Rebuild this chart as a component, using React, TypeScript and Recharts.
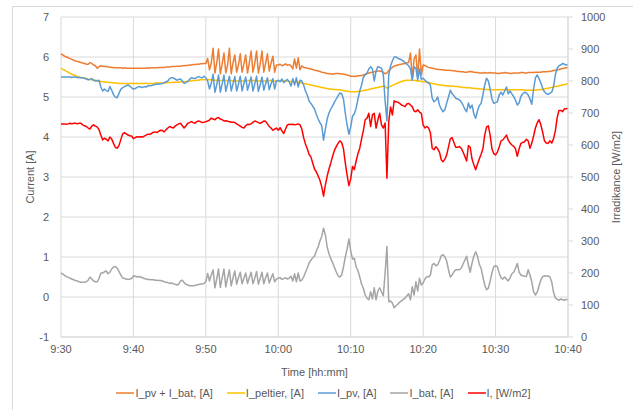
import React from 'react';
import { ComposedChart, Line, XAxis, YAxis, CartesianGrid, Legend } from 'recharts';

// minutes after 9:30, one sample every 15 s
const STEP_MIN = 0.25;
const TIME_TICKS = [0, 10, 20, 30, 40, 50, 60, 70];
const TIME_LABELS = ['9:30', '9:40', '9:50', '10:00', '10:10', '10:20', '10:30', '10:40'];
const CURRENT_TICKS = [-1, 0, 1, 2, 3, 4, 5, 6, 7];
const IRR_TICKS = [0, 100, 200, 300, 400, 500, 600, 700, 800, 900, 1000];
const SERIES_NAMES = ['I_pv + I_bat, [A]', 'I_peltier, [A]', 'I_pv, [A]', 'I_bat, [A]', 'I, [W/m2]'];

const I_PV_BAT = [
  6.08, 6.05, 6.02, 6.00, 5.98, 5.96, 5.94, 5.92, 5.90, 5.89, 5.88, 5.86, 5.85, 5.84, 5.82, 5.82, 5.86, 5.84, 5.80, 5.78,
  5.72, 5.76, 5.78, 5.77, 5.76, 5.76, 5.75, 5.75, 5.74, 5.74, 5.73, 5.73, 5.73, 5.73, 5.72, 5.73, 5.72, 5.72, 5.72, 5.72,
  5.72, 5.72, 5.72, 5.72, 5.72, 5.72, 5.72, 5.72, 5.73, 5.72, 5.73, 5.73, 5.73, 5.73, 5.74, 5.74, 5.74, 5.74, 5.75, 5.75,
  5.75, 5.76, 5.76, 5.76, 5.77, 5.77, 5.77, 5.78, 5.78, 5.79, 5.79, 5.80, 5.80, 5.81, 5.81, 5.82, 5.82, 5.83, 5.83, 5.84,
  5.84, 5.96, 5.68, 5.85, 6.22, 5.60, 5.85, 6.20, 5.58, 5.82, 6.10, 5.60, 5.80, 6.22, 5.58, 5.85, 6.05, 5.62, 5.80, 6.08,
  5.62, 5.82, 6.05, 5.60, 5.85, 6.15, 5.62, 5.84, 6.15, 5.60, 5.82, 6.15, 5.62, 5.85, 6.08, 5.65, 5.85, 6.02, 5.62, 5.80,
  5.80, 5.82, 5.78, 5.80, 5.83, 5.79, 5.81, 5.78, 5.70, 5.95, 5.72, 5.98, 5.68, 5.78, 5.74, 5.73, 5.72, 5.71, 5.70, 5.69,
  5.67, 5.66, 5.65, 5.64, 5.62, 5.61, 5.60, 5.59, 5.58, 5.58, 5.57, 5.58, 5.59, 5.59, 5.58, 5.58, 5.57, 5.56, 5.55, 5.54,
  5.52, 5.52, 5.51, 5.52, 5.53, 5.53, 5.54, 5.55, 5.57, 5.58, 5.60, 5.61, 5.62, 5.63, 5.64, 5.65, 5.65, 5.64, 5.62, 5.58,
  5.60, 5.66, 5.70, 5.74, 5.77, 5.79, 5.80, 5.81, 5.82, 5.83, 5.84, 5.85, 5.86, 6.10, 5.45, 5.95, 6.05, 5.50, 6.20, 5.55,
  5.80, 5.79, 5.76, 5.74, 5.73, 5.72, 5.71, 5.70, 5.69, 5.69, 5.68, 5.68, 5.67, 5.67, 5.67, 5.66, 5.66, 5.65, 5.65, 5.64,
  5.64, 5.63, 5.63, 5.62, 5.62, 5.63, 5.64, 5.63, 5.62, 5.61, 5.61, 5.60, 5.60, 5.60, 5.61, 5.60, 5.60, 5.61, 5.60, 5.60,
  5.60, 5.59, 5.59, 5.60, 5.60, 5.61, 5.60, 5.60, 5.59, 5.59, 5.60, 5.60, 5.60, 5.60, 5.61, 5.61, 5.60, 5.60, 5.61, 5.61,
  5.61, 5.61, 5.62, 5.62, 5.62, 5.62, 5.63, 5.63, 5.63, 5.64, 5.64, 5.65, 5.66, 5.67, 5.68, 5.69, 5.70, 5.71, 5.72, 5.73,
  5.74,
];

const I_PELTIER = [
  5.72, 5.69, 5.67, 5.64, 5.62, 5.59, 5.57, 5.55, 5.53, 5.51, 5.50, 5.49, 5.48, 5.47, 5.46, 5.45, 5.44, 5.43, 5.42, 5.42,
  5.41, 5.40, 5.39, 5.38, 5.38, 5.37, 5.37, 5.36, 5.36, 5.35, 5.35, 5.35, 5.34, 5.34, 5.34, 5.34, 5.34, 5.34, 5.34, 5.34,
  5.34, 5.34, 5.34, 5.34, 5.34, 5.34, 5.34, 5.34, 5.34, 5.34, 5.34, 5.34, 5.35, 5.35, 5.35, 5.35, 5.35, 5.35, 5.35, 5.36,
  5.36, 5.36, 5.36, 5.37, 5.37, 5.37, 5.38, 5.38, 5.38, 5.39, 5.39, 5.40, 5.40, 5.41, 5.41, 5.42, 5.42, 5.43, 5.43, 5.43,
  5.44, 5.44, 5.43, 5.43, 5.42, 5.42, 5.42, 5.41, 5.41, 5.41, 5.41, 5.41, 5.41, 5.41, 5.41, 5.40, 5.40, 5.40, 5.40, 5.40,
  5.40, 5.40, 5.40, 5.41, 5.41, 5.41, 5.41, 5.41, 5.40, 5.40, 5.40, 5.40, 5.40, 5.40, 5.41, 5.41, 5.41, 5.40, 5.40, 5.40,
  5.40, 5.40, 5.40, 5.40, 5.40, 5.40, 5.39, 5.39, 5.39, 5.38, 5.38, 5.37, 5.36, 5.35, 5.34, 5.33, 5.32, 5.31, 5.30, 5.29,
  5.28, 5.27, 5.26, 5.25, 5.24, 5.23, 5.22, 5.21, 5.20, 5.20, 5.19, 5.19, 5.19, 5.18, 5.18, 5.17, 5.16, 5.15, 5.15, 5.14,
  5.13, 5.13, 5.13, 5.13, 5.14, 5.14, 5.15, 5.16, 5.17, 5.18, 5.19, 5.20, 5.21, 5.22, 5.23, 5.24, 5.25, 5.26, 5.27, 5.27,
  5.22, 5.24, 5.27, 5.29, 5.31, 5.33, 5.35, 5.37, 5.38, 5.40, 5.41, 5.42, 5.42, 5.42, 5.42, 5.41, 5.41, 5.40, 5.40, 5.39,
  5.38, 5.38, 5.37, 5.36, 5.35, 5.34, 5.33, 5.32, 5.31, 5.30, 5.30, 5.29, 5.29, 5.28, 5.28, 5.27, 5.27, 5.27, 5.26, 5.26,
  5.25, 5.25, 5.24, 5.24, 5.23, 5.23, 5.23, 5.22, 5.22, 5.21, 5.21, 5.20, 5.20, 5.20, 5.19, 5.19, 5.19, 5.18, 5.18, 5.18,
  5.18, 5.18, 5.18, 5.18, 5.18, 5.18, 5.18, 5.18, 5.18, 5.18, 5.18, 5.18, 5.18, 5.18, 5.18, 5.18, 5.17, 5.17, 5.17, 5.17,
  5.17, 5.17, 5.17, 5.18, 5.18, 5.19, 5.19, 5.20, 5.21, 5.22, 5.23, 5.24, 5.25, 5.26, 5.27, 5.28, 5.29, 5.30, 5.31, 5.32,
  5.34,
];

const I_PV = [
  5.50, 5.50, 5.50, 5.50, 5.50, 5.50, 5.49, 5.50, 5.50, 5.49, 5.49, 5.48, 5.48, 5.47, 5.45, 5.43, 5.44, 5.46, 5.42, 5.40,
  5.40, 5.42, 5.25, 5.15, 5.20, 5.16, 5.14, 5.26, 5.17, 5.06, 5.00, 4.98, 5.09, 5.19, 5.23, 5.26, 5.28, 5.30, 5.27, 5.23,
  5.20, 5.21, 5.24, 5.26, 5.25, 5.24, 5.26, 5.25, 5.28, 5.28, 5.29, 5.30, 5.31, 5.33, 5.32, 5.33, 5.34, 5.36, 5.38, 5.40,
  5.46, 5.48, 5.48, 5.45, 5.42, 5.44, 5.45, 5.40, 5.34, 5.36, 5.39, 5.44, 5.48, 5.47, 5.46, 5.49, 5.51, 5.49, 5.48, 5.52,
  5.48, 5.40, 5.20, 5.35, 5.57, 5.12, 5.30, 5.55, 5.12, 5.32, 5.55, 5.14, 5.32, 5.52, 5.15, 5.33, 5.51, 5.15, 5.32, 5.52,
  5.15, 5.33, 5.50, 5.17, 5.33, 5.50, 5.15, 5.32, 5.52, 5.14, 5.30, 5.50, 5.17, 5.33, 5.48, 5.18, 5.33, 5.46, 5.20, 5.40,
  5.42, 5.38, 5.45, 5.36, 5.40, 5.44, 5.38, 5.27, 5.46, 5.30, 5.48, 5.25, 5.42, 5.40, 5.30, 5.15, 5.05, 4.90, 4.84, 4.77,
  4.70, 4.57, 4.45, 4.36, 4.28, 3.92, 4.20, 4.45, 4.60, 4.70, 4.78, 4.87, 4.95, 5.03, 5.10, 5.08, 4.95, 4.60, 4.30, 4.07,
  4.25, 4.52, 4.58, 4.72, 4.95, 5.15, 5.30, 5.50, 5.55, 5.60, 5.70, 5.76, 5.70, 5.40, 5.65, 5.76, 5.74, 5.72, 5.56, 4.90,
  4.40, 5.55, 5.78, 5.90, 6.00, 6.00, 5.97, 5.95, 5.93, 5.90, 5.86, 5.82, 5.78, 5.70, 5.42, 5.75, 5.72, 5.42, 5.70, 5.44,
  5.47, 5.42, 5.38, 5.35, 5.30, 4.97, 4.88, 4.92, 5.00, 4.80, 4.70, 4.63, 4.68, 4.85, 5.00, 5.17, 5.08, 5.03, 4.97, 4.95,
  4.93, 4.88, 4.80, 4.70, 4.63, 4.85, 4.72, 4.80, 4.58, 4.47, 4.65, 4.78, 4.84, 5.05, 5.30, 5.47, 5.40, 5.20, 4.95, 4.84,
  4.86, 4.88, 5.05, 5.12, 5.05, 5.15, 5.25, 5.08, 5.15, 5.08, 5.01, 4.92, 4.80, 4.85, 5.02, 5.08, 5.12, 5.10, 5.05, 4.95,
  4.82, 5.20, 5.48, 5.55, 5.46, 5.35, 5.22, 5.13, 5.08, 5.07, 5.09, 5.12, 5.26, 5.55, 5.72, 5.78, 5.80, 5.84, 5.82, 5.80,
  5.81,
];

const I_BAT = [
  0.60, 0.57, 0.54, 0.51, 0.49, 0.47, 0.45, 0.43, 0.41, 0.40, 0.38, 0.37, 0.37, 0.37, 0.38, 0.42, 0.50, 0.45, 0.40, 0.38,
  0.38, 0.46, 0.60, 0.60, 0.63, 0.65, 0.58, 0.62, 0.70, 0.75, 0.76, 0.72, 0.64, 0.55, 0.48, 0.46, 0.45, 0.44, 0.45, 0.46,
  0.53, 0.52, 0.50, 0.51, 0.50, 0.48, 0.46, 0.45, 0.44, 0.44, 0.43, 0.43, 0.42, 0.42, 0.41, 0.41, 0.40, 0.38, 0.37, 0.36,
  0.34, 0.35, 0.33, 0.32, 0.30, 0.32, 0.40, 0.42, 0.36, 0.32, 0.30, 0.28, 0.28, 0.28, 0.29, 0.30, 0.31, 0.32, 0.33, 0.34,
  0.38, 0.59, 0.40, 0.55, 0.68, 0.23, 0.45, 0.70, 0.24, 0.48, 0.70, 0.25, 0.48, 0.68, 0.28, 0.48, 0.65, 0.32, 0.48, 0.62,
  0.33, 0.47, 0.60, 0.34, 0.48, 0.62, 0.33, 0.47, 0.64, 0.32, 0.47, 0.62, 0.33, 0.48, 0.60, 0.35, 0.47, 0.58, 0.38, 0.45,
  0.47, 0.49, 0.44, 0.46, 0.48, 0.45, 0.47, 0.52, 0.40, 0.58, 0.38, 0.60, 0.40, 0.42, 0.50, 0.62, 0.72, 0.85, 0.92, 0.98,
  1.02, 1.15, 1.25, 1.40, 1.52, 1.72, 1.55, 1.25, 1.08, 0.96, 0.86, 0.74, 0.63, 0.53, 0.50, 0.55, 0.75, 1.00, 1.20, 1.45,
  1.15, 0.95, 0.97, 0.75, 0.66, 0.50, 0.32, 0.22, 0.05, -0.03, -0.07, 0.13, -0.05, 0.23, -0.07, 0.15, 0.23, 0.13, 0.03, 0.60,
  1.26, -0.12, -0.10, -0.15, -0.27, -0.22, -0.18, -0.13, -0.10, -0.06, -0.03, 0.03, 0.08, -0.07, 0.26, 0.05, 0.38, 0.15, 0.47, 0.30,
  0.35, 0.45, 0.51, 0.50, 0.55, 0.80, 0.84, 0.78, 0.80, 0.90, 1.03, 1.06, 1.00, 0.90, 0.68, 0.50, 0.55, 0.63, 0.68, 0.68,
  0.68, 0.72, 0.82, 0.92, 1.02, 0.80, 0.62, 0.85, 1.02, 1.13, 1.02, 0.82, 0.72, 0.50, 0.30, 0.18, 0.22, 0.40, 0.60, 0.76,
  0.78, 0.76, 0.60, 0.48, 0.45, 0.50, 0.45, 0.40, 0.48, 0.58, 0.62, 0.72, 0.84, 0.62, 0.55, 0.53, 0.52, 0.51, 0.68, 0.55,
  0.38, 0.13, 0.05, 0.12, 0.28, 0.42, 0.51, 0.53, 0.52, 0.53, 0.50, 0.38, 0.12, -0.02, -0.06, -0.08, -0.05, -0.07, -0.08, -0.06,
  -0.06,
];

const IRRADIANCE = [
  666, 666, 666, 665, 666, 668, 666, 668, 668, 666, 668, 668, 663, 660, 658, 653, 650, 659, 663, 659,
  656, 648, 631, 616, 621, 618, 613, 625, 619, 605, 593, 590, 598, 616, 634, 639, 635, 631, 629, 628,
  620, 623, 626, 625, 626, 625, 628, 631, 634, 633, 636, 640, 641, 639, 643, 646, 645, 641, 648, 653,
  658, 655, 653, 659, 663, 666, 668, 660, 653, 660, 668, 670, 673, 670, 668, 673, 675, 673, 670, 671,
  673, 675, 678, 684, 681, 679, 684, 686, 681, 679, 675, 676, 674, 673, 671, 671, 670, 666, 663, 659,
  655, 653, 660, 665, 664, 666, 671, 675, 673, 670, 668, 671, 675, 674, 666, 658, 653, 646, 650, 653,
  646, 654, 644, 636, 650, 663, 665, 664, 665, 663, 664, 666, 663, 650, 623, 603, 588, 571, 563, 544,
  525, 516, 503, 490, 469, 440, 475, 503, 525, 544, 565, 583, 595, 605, 613, 608, 588, 544, 506, 473,
  494, 533, 523, 550, 573, 590, 619, 646, 679, 684, 699, 658, 694, 699, 653, 679, 699, 663, 653, 669,
  496, 673, 719, 694, 738, 735, 734, 730, 725, 723, 720, 728, 730, 725, 720, 706, 704, 710, 703, 699,
  663, 653, 658, 653, 638, 590, 585, 595, 588, 578, 554, 548, 556, 569, 594, 619, 623, 608, 593, 593,
  595, 590, 579, 565, 550, 598, 593, 556, 538, 523, 540, 556, 571, 588, 631, 656, 660, 631, 588, 573,
  569, 578, 594, 613, 616, 623, 631, 615, 606, 600, 596, 588, 565, 588, 605, 608, 610, 618, 613, 590,
  606, 628, 653, 669, 679, 663, 640, 613, 606, 605, 613, 606, 619, 644, 685, 708, 708, 704, 713, 713,
  715,
];

const data = I_PV.map((_, i) => ({
  t: i * STEP_MIN,
  sum: I_PV_BAT[i],
  peltier: I_PELTIER[i],
  pv: I_PV[i],
  bat: I_BAT[i],
  irr: IRRADIANCE[i],
}));

const TEXT = '#595959';
const GRID = '#d9d9d9';
const FONT = '"Liberation Sans", Arial, sans-serif';

const fmtTime = (v: number) => {
  const idx = TIME_TICKS.indexOf(v);
  return idx >= 0 ? TIME_LABELS[idx] : '';
};

const LegendContent = (props: any) => {
  const payload: any[] = props.payload || [];
  const ordered = SERIES_NAMES.map((n) => payload.find((p: any) => p.value === n)).filter(Boolean);
  return (
    <div
      style={{
        display: 'flex',
        justifyContent: 'center',
        alignItems: 'center',
        height: 20,
        fontSize: 11,
        color: TEXT,
        paddingLeft: 14,
        fontFamily: FONT,
      }}
    >
      {ordered.map((p: any, i: number) => (
        <span key={i} style={{ display: 'flex', alignItems: 'center', marginRight: i < ordered.length - 1 ? 14 : 0 }}>
          <svg width={18} height={10} style={{ marginRight: 1 }}>
            <line x1={0} y1={5} x2={18} y2={5} stroke={p.color} strokeWidth={1.5} />
          </svg>
          <span>{p.value}</span>
        </span>
      ))}
    </div>
  );
};

const LeftTitle = (props: any) => {
  const vb = props.viewBox || {};
  const x = (vb.x || 0) + 30;
  const y = (vb.y || 0) + (vb.height || 0) / 2;
  return (
    <text x={x} y={y} transform={`rotate(-90 ${x} ${y})`} textAnchor="middle" dominantBaseline="central" fill={TEXT} fontSize={11}>
      Current [A]
    </text>
  );
};

const RightTitle = (props: any) => {
  const vb = props.viewBox || {};
  const x = (vb.x || 0) + 48;
  const y = (vb.y || 0) + (vb.height || 0) / 2;
  return (
    <text x={x} y={y} transform={`rotate(-90 ${x} ${y})`} textAnchor="middle" dominantBaseline="central" fill={TEXT} fontSize={11}>
      Irradikance [W/m2]
    </text>
  );
};

export default function App() {
  return (
    <div
      style={{
        position: 'absolute',
        left: 0,
        top: 0,
        width: 633,
        height: 410,
        background: '#fff',
        overflow: 'hidden',
        fontFamily: FONT,
      }}
    >
      <div
        style={{
          position: 'absolute',
          left: 12,
          top: 6,
          width: 700,
          height: 500,
          border: `1px solid ${GRID}`,
          boxSizing: 'border-box',
        }}
      />
      <ComposedChart
        width={633}
        height={410}
        data={data}
        margin={{ top: 17, right: 0, bottom: 7, left: 0 }}
        style={{ fontFamily: FONT }}
      >
        <CartesianGrid yAxisId="left" stroke={GRID} strokeWidth={1} />
        <XAxis
          dataKey="t"
          type="number"
          domain={[0, 70]}
          ticks={TIME_TICKS}
          tickFormatter={fmtTime}
          interval={0}
          height={46}
          axisLine={{ stroke: GRID }}
          tickLine={false}
          tick={{ fill: TEXT, fontSize: 11 }}
          tickMargin={2}
          label={{ value: 'Time [hh:mm]', position: 'insideBottom', offset: 7, fill: TEXT, fontSize: 11 }}
        />
        <YAxis
          yAxisId="left"
          domain={[-1, 7]}
          ticks={CURRENT_TICKS}
          interval={0}
          width={61}
          axisLine={false}
          tickLine={false}
          tickMargin={6}
          tick={{ fill: TEXT, fontSize: 11 }}
          label={<LeftTitle />}
        />
        <YAxis
          yAxisId="right"
          orientation="right"
          domain={[0, 1000]}
          ticks={IRR_TICKS}
          interval={0}
          width={65}
          axisLine={{ stroke: GRID }}
          tickLine={{ stroke: GRID }}
          tickSize={5}
          tickMargin={8}
          tick={{ fill: TEXT, fontSize: 11, textAnchor: 'start' }}
          label={<RightTitle />}
        />
        <Legend verticalAlign="bottom" height={20} content={<LegendContent />} />
        <Line yAxisId="left" type="linear" dataKey="sum" name="I_pv + I_bat, [A]" stroke="#ED7D31" strokeWidth={1.5} dot={false} isAnimationActive={false} strokeLinejoin="round" />
        <Line yAxisId="left" type="linear" dataKey="peltier" name="I_peltier, [A]" stroke="#FFC000" strokeWidth={1.5} dot={false} isAnimationActive={false} strokeLinejoin="round" />
        <Line yAxisId="left" type="linear" dataKey="pv" name="I_pv, [A]" stroke="#5B9BD5" strokeWidth={1.5} dot={false} isAnimationActive={false} strokeLinejoin="round" />
        <Line yAxisId="left" type="linear" dataKey="bat" name="I_bat, [A]" stroke="#A5A5A5" strokeWidth={1.5} dot={false} isAnimationActive={false} strokeLinejoin="round" />
        <Line yAxisId="right" type="linear" dataKey="irr" name="I, [W/m2]" stroke="#FF0000" strokeWidth={1.5} dot={false} isAnimationActive={false} strokeLinejoin="round" />
      </ComposedChart>
    </div>
  );
}
